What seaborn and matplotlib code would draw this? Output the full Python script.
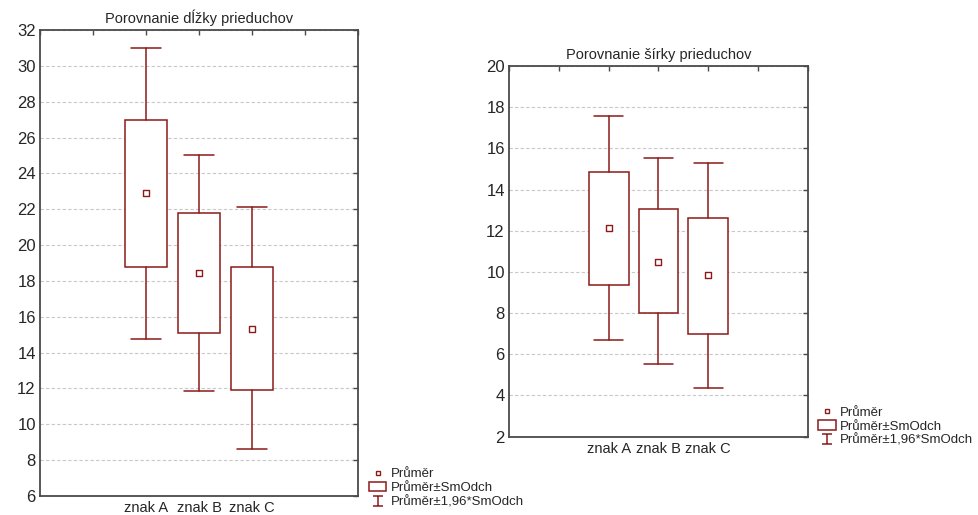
import matplotlib
matplotlib.use("Agg")
import matplotlib.pyplot as plt
import matplotlib.transforms as mtransforms
from matplotlib.lines import Line2D
from matplotlib.patches import Rectangle
from matplotlib.path import Path
import seaborn as sns
import pandas as pd

# hodnoty odčítané z grafu
znaky = ["znak A", "znak B", "znak C"]

dlzka_priemer = [22.9, 18.45, 15.3]
dlzka_sd_dole = [18.75, 15.1, 11.9]
dlzka_sd_hore = [27.0, 21.8, 18.8]
dlzka_196_dole = [14.75, 11.85, 8.6]
dlzka_196_hore = [31.0, 25.05, 22.15]

sirka_priemer = [12.15, 10.5, 9.85]
sirka_sd_dole = [9.35, 8.0, 7.0]
sirka_sd_hore = [14.85, 13.08, 12.6]
sirka_196_dole = [6.7, 5.55, 4.35]
sirka_196_hore = [17.55, 15.52, 15.27]

legenda = ["Průměr", "Průměr±SmOdch", "Průměr±1,96*SmOdch"]

farba = "#8b1a1a"
os_farba = "#4a4a4a"

sns.set_style("white")
plt.rcParams["font.family"] = ["Liberation Sans", "DejaVu Sans"]

fig = plt.figure(figsize=(9.79, 5.15), dpi=100)
ax1 = fig.add_axes([0.0409, 0.0369, 0.3248, 0.9048])
ax2 = fig.add_axes([0.5199, 0.1521, 0.3054, 0.7197])

# znacka pre legendu: vousy
vous = Path([(-1, 1), (1, 1), (0, 1), (0, -1), (-1, -1), (1, -1)],
            [Path.MOVETO, Path.LINETO, Path.MOVETO, Path.LINETO, Path.MOVETO, Path.LINETO])


def kresli(ax, priemer, sd_dole, sd_hore, d196, h196, ylim, titulok, leg_xy):
    stats = []
    for i, z in enumerate(znaky):
        stats.append(dict(label=z, med=priemer[i], q1=sd_dole[i], q3=sd_hore[i],
                          whislo=d196[i], whishi=h196[i], fliers=[]))
    ax.bxp(stats, positions=range(len(znaky)), widths=0.8, showfliers=False,
           patch_artist=True, manage_ticks=False,
           boxprops=dict(facecolor="white", edgecolor=farba, linewidth=1.1),
           whiskerprops=dict(color=farba, linewidth=1.1),
           capprops=dict(color=farba, linewidth=1.1),
           capwidths=0.57,
           medianprops=dict(linewidth=0))
    df = pd.DataFrame({"znak": range(len(znaky)), "priemer": priemer})
    sns.scatterplot(data=df, x="znak", y="priemer", ax=ax, marker="s", s=14,
                    facecolor="white", edgecolor=farba, linewidth=1.0, zorder=5)

    ax.set_xlim(-2, 4)
    ax.set_ylim(*ylim)
    ax.set_xticks(range(-2, 5))
    ax.set_xticklabels(["", ""] + znaky + ["", ""], fontsize=10.5)
    posun = mtransforms.ScaledTranslation(-6 / 100, 0, fig.dpi_scale_trans)
    for t in ax.get_xticklabels():
        t.set_transform(t.get_transform() + posun)
    ax.set_yticks(range(ylim[0], ylim[1] + 1, 2))
    ax.tick_params(axis="y", labelsize=12, pad=3)
    ax.tick_params(direction="in", top=True, right=True, length=3.5,
                   color=os_farba, width=1)
    ax.set_xlabel("")
    ax.set_ylabel("")
    ax.yaxis.grid(True, color="#c8c8c8", linestyle=(0, (3, 2)), linewidth=0.8)
    ax.set_axisbelow(True)
    for s in ax.spines.values():
        s.set_visible(True)
        s.set_color(os_farba)
        s.set_linewidth(1.3)
    ax.set_title(titulok, fontsize=10.5, pad=5)

    handles = [
        Line2D([], [], linestyle="none", marker="s", markersize=3.5,
               markerfacecolor="white", markeredgecolor=farba, markeredgewidth=1),
        Rectangle((0, 0), 1, 1, facecolor="white", edgecolor=farba, linewidth=1.1),
        Line2D([], [], linestyle="none", marker=vous, markersize=7.5,
               markeredgecolor=farba, markeredgewidth=1.1),
    ]
    ax.legend(handles, legenda, loc="upper left", bbox_to_anchor=leg_xy,
              bbox_transform=fig.transFigure, frameon=False, fontsize=9.5,
              handlelength=1.3, handleheight=0.7, handletextpad=0.35,
              labelspacing=0.14, borderpad=0, borderaxespad=0)


kresli(ax1, dlzka_priemer, dlzka_sd_dole, dlzka_sd_hore, dlzka_196_dole, dlzka_196_hore,
       (6, 32), "Porovnanie dĺžky prieduchov", (0.377, 0.091))
kresli(ax2, sirka_priemer, sirka_sd_dole, sirka_sd_hore, sirka_196_dole, sirka_196_hore,
       (2, 20), "Porovnanie šírky prieduchov", (0.836, 0.211))

fig.savefig("out.png", dpi=100)
